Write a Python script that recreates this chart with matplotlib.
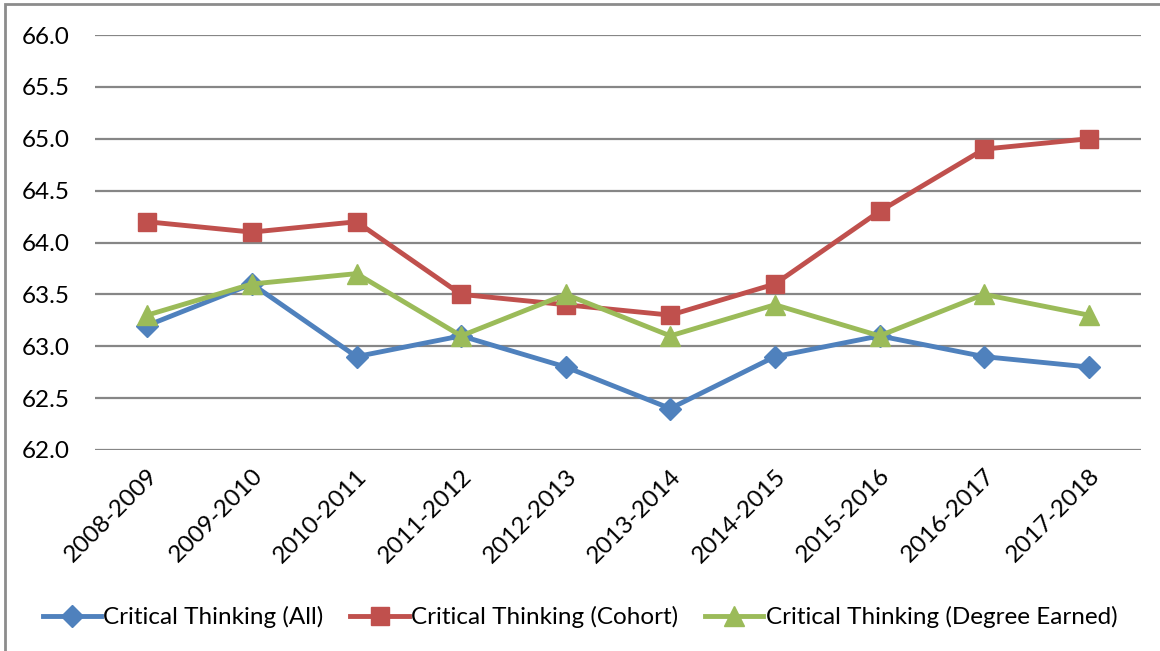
import matplotlib.pyplot as plt
from matplotlib.patches import Rectangle

years = ['2008-2009', '2009-2010', '2010-2011', '2011-2012', '2012-2013',
         '2013-2014', '2014-2015', '2015-2016', '2016-2017', '2017-2018']
ct_all = [63.2, 63.6, 62.9, 63.1, 62.8, 62.4, 62.9, 63.1, 62.9, 62.8]
ct_cohort = [64.2, 64.1, 64.2, 63.5, 63.4, 63.3, 63.6, 64.3, 64.9, 65.0]
ct_degree = [63.3, 63.6, 63.7, 63.1, 63.5, 63.1, 63.4, 63.1, 63.5, 63.3]
y_ticks = [62.0, 62.5, 63.0, 63.5, 64.0, 64.5, 65.0, 65.5, 66.0]

plt.rcParams['font.family'] = ['Lato', 'DejaVu Sans']
fs = 17.5

fig = plt.figure(figsize=(11.6, 6.51), dpi=100)
ax = fig.add_axes([95/1160, 1 - 450/651, (1141 - 95)/1160, (450 - 35)/651])

x = range(len(years))
ax.plot(x, ct_all, color='#4F81BD', lw=3.5, marker='D', ms=11,
        label='Critical Thinking (All)')
ax.plot(x, ct_cohort, color='#C0504D', lw=3.5, marker='s', ms=13,
        label='Critical Thinking (Cohort)')
ax.plot(x, ct_degree, color='#9BBB59', lw=3.5, marker='^', ms=14,
        label='Critical Thinking (Degree Earned)')

ax.set_xlim(-0.5, len(years) - 0.5)
ax.set_ylim(62.0, 66.0)
ax.set_yticks(y_ticks)
ax.set_yticklabels(['%.1f' % v for v in y_ticks], fontsize=fs)
ax.set_xticks(list(x))
ax.set_xticklabels(years, rotation=45, ha='right', rotation_mode='anchor', fontsize=fs)
ax.tick_params(axis='x', length=0, pad=11)
ax.tick_params(axis='y', length=0, pad=18.5)
ax.yaxis.grid(True, color='#868686', lw=1.6)
ax.set_axisbelow(True)
for s in ax.spines.values():
    s.set_visible(False)

leg = fig.legend(loc='center', bbox_to_anchor=(0.5, 1 - 617/651), ncol=3,
                 frameon=False, fontsize=fs, handlelength=2.4, handletextpad=0.1,
                 columnspacing=1.1)

fig.patches.append(Rectangle((5/1160, -0.1), 1.2, 1 - 4/651 + 0.1,
                             transform=fig.transFigure, fill=False,
                             edgecolor='#8C8C8C', lw=2))

fig.savefig('out.png', dpi=100)
